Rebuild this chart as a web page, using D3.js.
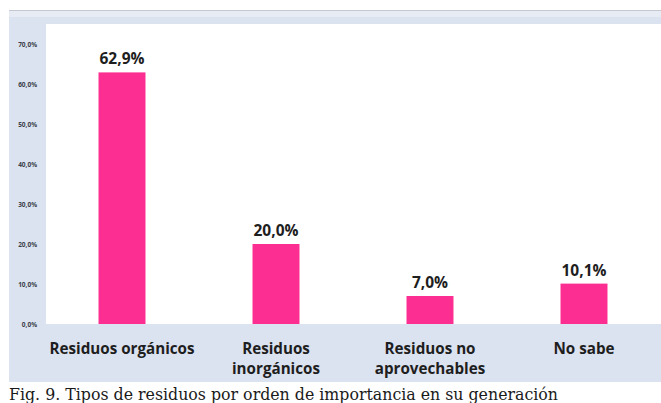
<!DOCTYPE html>
<html>
<head>
<meta charset="utf-8">
<script src="https://cdn.jsdelivr.net/npm/d3@7/dist/d3.min.js"></script>
<style>
  html, body { margin: 0; padding: 0; background: #ffffff; }
  svg { display: block; }
</style>
</head>
<body>
<svg id="chart" width="661" height="403"></svg>
<script>
// Tipos de residuos por orden de importancia en su generación
const categories = ["Residuos orgánicos", "Residuos\ninorgánicos", "Residuos no\naprovechables", "No sabe"];
const values = [62.9, 20.0, 7.0, 10.1];
const yTicks = [0, 10, 20, 30, 40, 50, 60, 70];
const caption = "Fig. 9. Tipos de residuos por orden de importancia en su generación";

const W = 661, H = 403;
const svg = d3.select("#chart");

const fmt = v => d3.format(".1f")(v).replace(".", ",") + "%";

// chart frame (light blue) and plot area (white)
const frame = { x0: 9, y0: 10, x1: 661, y1: 382 };
const plot = { x0: 46, y0: 24, x1: 661, y1: 324 };

svg.append("rect")
  .attr("x", frame.x0).attr("y", frame.y0)
  .attr("width", frame.x1 - frame.x0).attr("height", frame.y1 - frame.y0)
  .attr("fill", "#dbe2f0");

svg.append("line")
  .attr("x1", frame.x0).attr("x2", frame.x1)
  .attr("y1", frame.y0 + 0.5).attr("y2", frame.y0 + 0.5)
  .attr("stroke", "#c3c8d2").attr("stroke-width", 1);

svg.append("rect")
  .attr("x", frame.x0).attr("y", frame.y0 + 1)
  .attr("width", frame.x1 - frame.x0).attr("height", 6)
  .attr("fill", "#e6ebf4");

svg.append("rect")
  .attr("x", plot.x0).attr("y", plot.y0)
  .attr("width", plot.x1 - plot.x0).attr("height", plot.y1 - plot.y0)
  .attr("fill", "#ffffff");

// scales
const x = d3.scaleBand()
  .domain(categories)
  .range([45, 661])
  .paddingInner(0.695)
  .paddingOuter(0.3475);

const y = d3.scaleLinear()
  .domain([0, 70])
  .range([324, 44]);

// y axis labels
const yAxis = d3.axisLeft(y)
  .tickValues(yTicks)
  .tickFormat(fmt)
  .tickSize(0)
  .tickPadding(0);

const gy = svg.append("g")
  .attr("transform", "translate(37,0)")
  .call(yAxis);
gy.select(".domain").remove();
gy.selectAll("text")
  .attr("font-family", "'Open Sans', sans-serif")
  .attr("font-size", 6.5)
  .attr("font-weight", 700)
  .attr("fill", "#3a3f4a");

// bars
svg.append("g").selectAll("rect")
  .data(values)
  .join("rect")
  .attr("x", (d, i) => x(categories[i]))
  .attr("y", d => y(d))
  .attr("width", x.bandwidth())
  .attr("height", d => y(0) - y(d))
  .attr("fill", "#fd2e92");

// value labels
svg.append("g").selectAll("text")
  .data(values)
  .join("text")
  .attr("x", (d, i) => x(categories[i]) + x.bandwidth() / 2)
  .attr("y", d => y(d) - 8)
  .attr("text-anchor", "middle")
  .attr("font-family", "'Open Sans', sans-serif")
  .attr("font-size", 15.5)
  .attr("font-weight", 700)
  .attr("fill", "#1e1e1e")
  .text(d => fmt(d));

// category labels, one text element per line
const xAxis = d3.axisBottom(x).tickSize(0).tickPadding(0).tickFormat(() => "");
const gx = svg.append("g")
  .attr("transform", "translate(0,354)")
  .call(xAxis);
gx.select(".domain").remove();
gx.selectAll(".tick").each(function(d) {
  const g = d3.select(this);
  g.select("text").remove();
  d.split("\n").forEach((ln, k) => {
    g.append("text")
      .attr("x", 0)
      .attr("y", k * 20)
      .attr("text-anchor", "middle")
      .attr("font-family", "'Open Sans', sans-serif")
      .attr("font-size", 15.2)
      .attr("font-weight", 700)
      .attr("fill", "#1e1e1e")
      .text(ln);
  });
});

// caption
svg.append("text")
  .attr("x", 9)
  .attr("y", 400)
  .attr("font-family", "'DejaVu Serif', serif")
  .attr("font-size", 16)
  .attr("fill", "#1a1a1a")
  .attr("textLength", 549)
  .attr("lengthAdjust", "spacingAndGlyphs")
  .text(caption);
</script>
</body>
</html>
